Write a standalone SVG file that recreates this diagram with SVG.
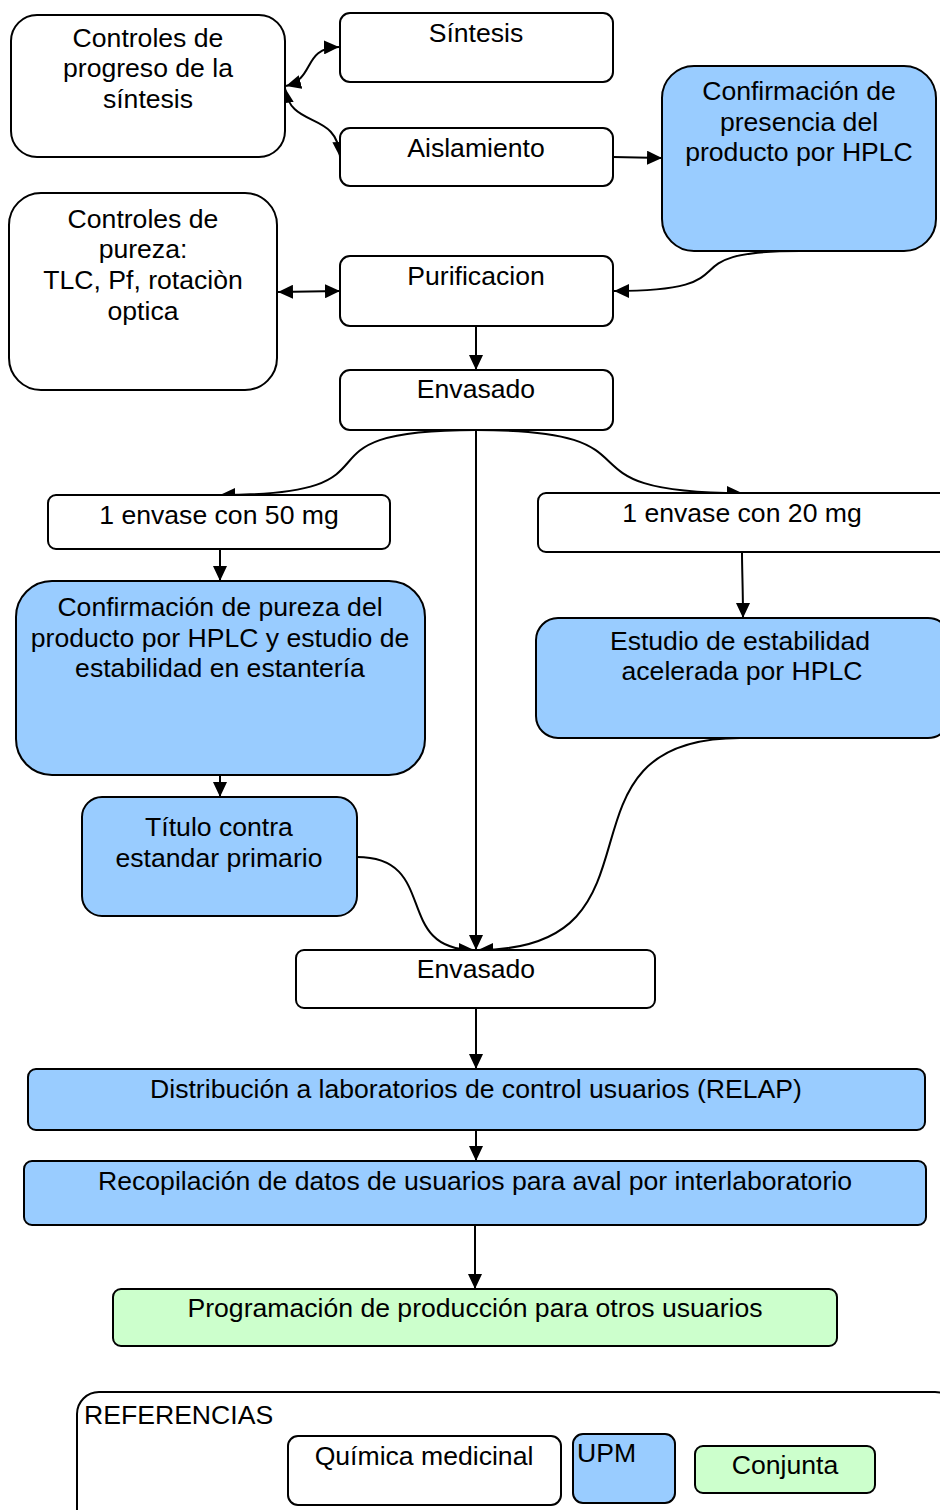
<svg xmlns="http://www.w3.org/2000/svg" width="940" height="1510" viewBox="0 0 940 1510">
<defs>
<style>
.b{fill:#fff;stroke:#000;stroke-width:2}
.u{fill:#99ccff;stroke:#000;stroke-width:2}
.g{fill:#ccffcc;stroke:#000;stroke-width:2}
text{font-family:"Liberation Sans",Arial,sans-serif;font-size:26.6px;fill:#000;text-anchor:middle}
.l{text-anchor:start}
.c{fill:none;stroke:#000;stroke-width:2}
</style>
<marker id="ah" markerUnits="userSpaceOnUse" markerWidth="16" markerHeight="14" refX="15" refY="7" orient="auto-start-reverse" viewBox="0 0 16 14">
<path d="M0,0 L15,7 L0,14 z" fill="#000"/>
</marker>
</defs>
<rect width="940" height="1510" fill="#fff"/>

<g id="connectors">
<path class="c" d="M286,86 C316,78 302,48 339,47" marker-start="url(#ah)" marker-end="url(#ah)"/>
<path class="c" d="M285,88 C290,130 338,110 340,157" marker-start="url(#ah)" marker-end="url(#ah)"/>
<path class="c" d="M613,157 L662,158" marker-end="url(#ah)"/>
<path class="c" d="M800,251 C660,251 760,291 614,291" marker-end="url(#ah)"/>
<path class="c" d="M278,292 L340,291" marker-start="url(#ah)" marker-end="url(#ah)"/>
<path class="c" d="M476,326 L476,370" marker-end="url(#ah)"/>
<path class="c" d="M476,430 C276,430 420,495 220,495" marker-end="url(#ah)"/>
<path class="c" d="M476,430 C676,430 542,493 742,493" marker-end="url(#ah)"/>
<path class="c" d="M476,430 L476,950" marker-end="url(#ah)"/>
<path class="c" d="M220,549 L220,581" marker-end="url(#ah)"/>
<path class="c" d="M742,552 C742,570 743,590 743,618" marker-end="url(#ah)"/>
<path class="c" d="M220,775 L220,797" marker-end="url(#ah)"/>
<path class="c" d="M357,857 C440,857 392,950 474,950" marker-end="url(#ah)"/>
<path class="c" d="M740,738 C540,738 680,950 478,950" marker-end="url(#ah)"/>
<path class="c" d="M476,1008 L476,1069" marker-end="url(#ah)"/>
<path class="c" d="M476,1130 L476,1161" marker-end="url(#ah)"/>
<path class="c" d="M475,1225 L475,1289" marker-end="url(#ah)"/>
</g>

<g id="n-progreso"><rect class="b" x="11" y="15" width="274" height="142" rx="26"/>
<text x="148" y="47">Controles de</text><text x="148" y="77">progreso de la</text><text x="148" y="108">síntesis</text></g>
<g id="n-sintesis"><rect class="b" x="340" y="13" width="273" height="69" rx="10"/><text x="476" y="42">Síntesis</text></g>
<g id="n-aislamiento"><rect class="b" x="340" y="128" width="273" height="58" rx="10"/><text x="476" y="157">Aislamiento</text></g>
<g id="n-presencia"><rect class="u" x="662" y="66" width="274" height="185" rx="32"/>
<text x="799" y="100">Confirmación de</text><text x="799" y="131">presencia del</text><text x="799" y="161">producto por HPLC</text></g>
<g id="n-pureza"><rect class="b" x="9" y="193" width="268" height="197" rx="32"/>
<text x="143" y="228">Controles de</text><text x="143" y="258">pureza:</text><text x="143" y="289">TLC, Pf, rotaciòn</text><text x="143" y="320">optica</text></g>
<g id="n-purificacion"><rect class="b" x="340" y="256" width="273" height="70" rx="10"/><text x="476" y="285">Purificacion</text></g>
<g id="n-envasado1"><rect class="b" x="340" y="370" width="273" height="60" rx="10"/><text x="476" y="398">Envasado</text></g>
<g id="n-envase50"><rect class="b" x="48" y="495" width="342" height="54" rx="8"/><text x="219" y="524">1 envase con 50 mg</text></g>
<g id="n-envase20"><rect class="b" x="538" y="493" width="412" height="59" rx="8"/><text x="742" y="522">1 envase con 20 mg</text></g>
<g id="n-confpureza"><rect class="u" x="16" y="581" width="409" height="194" rx="36"/>
<text x="220" y="616">Confirmación de pureza del</text><text x="220" y="647">producto por HPLC y estudio de</text><text x="220" y="677">estabilidad en estantería</text></g>
<g id="n-estudio"><rect class="u" x="536" y="618" width="414" height="120" rx="22"/>
<text x="740" y="650">Estudio de estabilidad</text><text x="742" y="680">acelerada por HPLC</text></g>
<g id="n-titulo"><rect class="u" x="82" y="797" width="275" height="119" rx="20"/>
<text x="219" y="836">Título contra</text><text x="219" y="867">estandar primario</text></g>
<g id="n-envasado2"><rect class="b" x="296" y="950" width="359" height="58" rx="8"/><text x="476" y="978">Envasado</text></g>
<g id="n-distribucion"><rect class="u" x="28" y="1069" width="897" height="61" rx="8"/><text x="476" y="1098">Distribución a laboratorios de control usuarios (RELAP)</text></g>
<g id="n-recopilacion"><rect class="u" x="24" y="1161" width="902" height="64" rx="8"/><text x="475" y="1190">Recopilación de datos de usuarios para aval por interlaboratorio</text></g>
<g id="n-programacion"><rect class="g" x="113" y="1289" width="724" height="57" rx="8"/><text x="475" y="1317">Programación de producción para otros usuarios</text></g>

<g id="legend">
<rect class="b" x="77" y="1392" width="880" height="140" rx="22"/>
<text class="l" x="84" y="1424">REFERENCIAS</text>
<g id="leg-quimica"><rect class="b" x="288" y="1436" width="273" height="69" rx="10"/><text x="424" y="1465">Química medicinal</text></g>
<g id="leg-upm"><rect class="u" x="573" y="1434" width="102" height="69" rx="10"/><text class="l" x="577" y="1462">UPM</text></g>
<g id="leg-conjunta"><rect class="g" x="695" y="1446" width="180" height="47" rx="8"/><text x="785" y="1474">Conjunta</text></g>
</g>
</svg>
